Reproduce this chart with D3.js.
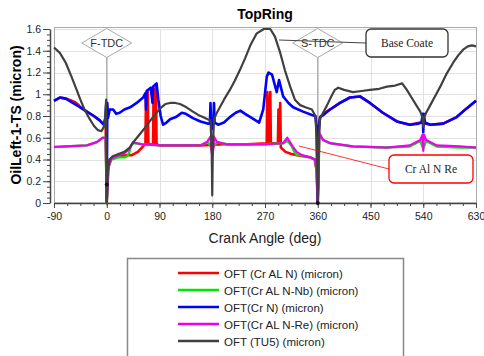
<!DOCTYPE html>
<html>
<head>
<meta charset="utf-8">
<script src="https://cdn.jsdelivr.net/npm/d3@7/dist/d3.min.js"></script>
<style>
  body { margin: 0; background: #fff; }
  svg { display: block; font-family: Arial, "Liberation Sans", sans-serif; }
</style>
</head>
<body>
<svg id="chart" width="484" height="356"></svg>
<script>
// tick values
const xTicks = [-90, 0, 90, 180, 270, 360, 450, 540, 630];
const yTicks = [0, 0.2, 0.4, 0.6, 0.8, 1, 1.2, 1.4, 1.6];

// series, [crank angle, film thickness]
const crAlN = [
    [-90, 0.94], [-80, 0.97], [-70, 0.96], [-62, 0.945], [-55, 0.93], [-48, 0.9], [-45, 0.88],
    [-34, 0.84], [-22, 0.8], [-12, 0.76], [-5, 0.72], [-2, 0.78], [0, 0],
    [2, 0.3], [5, 0.4], [20, 0.43], [35, 0.44], [43, 0.44], [53, 0.47], [60, 0.51], [65, 0.54],
    [66, 0.54], [67, 1.0], [68, 0.54], [70, 1.02], [71, 0.54], [79, 0.54], [80, 1.05], [81, 0.54],
    [84, 1.08], [85, 0.54], [90, 0.53], [120, 0.53], [160, 0.53], [200, 0.54], [240, 0.54],
    [273, 0.55], [274, 1.02], [276, 0.55], [279, 1.02], [280, 0.55], [292, 0.55], [293, 0.86],
    [294, 0.55], [296, 0.92], [297, 0.51], [305, 0.47], [315, 0.45], [325, 0.44], [335, 0.43],
    [347, 0.42], [355, 0.4], [358, 0.3], [360, 0],
    [362, 0.7], [364, 0.79], [372, 0.83], [381, 0.86], [398, 0.92], [415, 0.97], [432, 0.98],
    [449, 0.92], [471, 0.83], [495, 0.75], [517, 0.72], [535, 0.74], [552, 0.72], [574, 0.73],
    [597, 0.79], [614, 0.87], [630, 0.94]
];
const crAlNNb = [
    [-90, 0.515], [-70, 0.52], [-34, 0.53], [-17, 0.56], [-7, 0.6], [-2, 0.6], [0, 0],
    [3, 0.33], [8, 0.4], [20, 0.42], [30, 0.42], [35, 0.43], [38, 0.46], [41, 0.52], [44, 0.55],
    [48, 0.55], [60, 0.54], [90, 0.53], [160, 0.53], [172, 0.56], [180, 0.5], [188, 0.56],
    [205, 0.54], [270, 0.54], [301, 0.55], [308, 0.57], [312, 0.55], [316, 0.52], [320, 0.47],
    [324, 0.44], [330, 0.44], [347, 0.42], [355, 0.4], [358, 0.3], [360, 0],
    [363, 0.63], [369, 0.58], [381, 0.55], [420, 0.52], [478, 0.51], [517, 0.52], [535, 0.57],
    [540, 0.5], [545, 0.57], [563, 0.52], [603, 0.51], [630, 0.51]
];
const crN = [
    [-90, 0.94], [-80, 0.97], [-70, 0.96], [-58, 0.92], [-45, 0.88], [-34, 0.84], [-22, 0.8],
    [-12, 0.76], [-5, 0.72], [-2, 0.78], [-1, 0.9], [0, 0.02], [1, 0.92], [2, 0.78], [5, 0.86],
    [11, 0.86], [16, 0.82], [22, 0.83], [30, 0.86], [40, 0.88], [51, 0.92], [62, 0.97], [66, 1.01],
    [67, 0.86], [68, 1.03], [75, 1.06], [78, 0.92], [79, 1.07], [85, 1.1], [88, 0.95], [92, 0.8],
    [96, 0.72], [102, 0.74], [108, 0.77], [118, 0.79], [128, 0.83], [135, 0.82], [147, 0.78],
    [160, 0.75], [172, 0.73], [176, 0.73], [177, 0.92], [178, 0.74], [180, 0.68], [182, 0.74],
    [183, 0.92], [184, 0.74], [190, 0.72], [200, 0.74], [210, 0.79], [220, 0.83], [228, 0.85],
    [236, 0.82], [248, 0.78], [260, 0.74], [267, 0.86], [273, 1.16], [276, 1.2], [282, 1.18],
    [290, 1.02], [294, 1.13], [301, 0.98], [310, 0.92], [318, 0.88], [335, 0.84], [350, 0.81],
    [356, 0.8], [358, 0.7], [360, 0], [362, 0.7], [364, 0.79], [372, 0.82], [381, 0.86],
    [398, 0.92], [415, 0.97], [432, 0.98], [449, 0.92], [471, 0.83], [495, 0.75], [517, 0.72],
    [532, 0.73], [537, 0.74], [539, 0.82], [540, 0.65], [541, 0.82], [543, 0.74], [552, 0.72],
    [574, 0.73], [597, 0.79], [614, 0.87], [630, 0.94]
];
const crAlNRe = [
    [-90, 0.515], [-70, 0.52], [-34, 0.53], [-17, 0.56], [-7, 0.6], [-2, 0.6], [0, 0],
    [3, 0.33], [8, 0.41], [20, 0.44], [30, 0.46], [38, 0.49], [42, 0.53], [45, 0.56], [50, 0.55],
    [60, 0.54], [90, 0.53], [120, 0.53], [160, 0.53], [171, 0.56], [177, 0.61], [178, 0.5],
    [180, 0.44], [182, 0.5], [183, 0.61], [188, 0.56], [205, 0.54], [247, 0.54], [273, 0.54],
    [301, 0.55], [308, 0.6], [316, 0.53], [324, 0.47], [333, 0.44], [347, 0.42], [355, 0.4],
    [358, 0.3], [360, 0], [363, 0.64], [369, 0.58], [381, 0.55], [420, 0.52], [478, 0.51],
    [517, 0.53], [535, 0.58], [539, 0.63], [540, 0.48], [541, 0.63], [545, 0.58], [563, 0.53],
    [603, 0.52], [630, 0.51]
];
const tu5 = [
    [-90, 1.43], [-80, 1.38], [-70, 1.29], [-60, 1.16], [-52, 1.05], [-45, 0.95], [-38, 0.86],
    [-30, 0.78], [-22, 0.71], [-15, 0.67], [-9, 0.66], [-5, 0.7], [-3, 0.78], [-1, 0.95], [0, 0],
    [2, 0.3], [5, 0.4], [10, 0.43], [20, 0.45], [30, 0.47], [39, 0.51], [47, 0.57], [56, 0.63],
    [65, 0.69], [73, 0.75], [82, 0.81], [91, 0.87], [100, 0.91], [108, 0.92], [117, 0.92],
    [125, 0.91], [136, 0.88], [147, 0.84], [156, 0.81], [164, 0.79], [172, 0.77], [177, 0.76],
    [179, 0.5], [180, 0.07], [181, 0.5], [183, 0.77], [187, 0.82], [193, 0.88], [200, 0.95],
    [210, 1.04], [218, 1.12], [227, 1.22], [236, 1.33], [245, 1.45], [256, 1.56], [268, 1.6],
    [279, 1.6], [287, 1.53], [296, 1.38], [304, 1.22], [313, 1.07], [321, 0.95], [330, 0.9],
    [339, 0.88], [350, 0.86], [356, 0.8], [358, 0.6], [360, 0], [362, 0.6], [364, 0.78],
    [370, 0.84], [376, 0.9], [383, 0.98], [389, 1.04], [395, 1.06], [405, 1.04], [420, 1.02],
    [435, 1.03], [449, 1.04], [465, 1.05], [478, 1.07], [492, 1.08], [504, 1.1], [512, 1.04],
    [520, 0.97], [528, 0.9], [535, 0.84], [539, 0.78], [540, 0.7], [541, 0.78], [545, 0.83],
    [552, 0.9], [560, 0.98], [569, 1.07], [580, 1.19], [591, 1.29], [600, 1.36], [608, 1.41],
    [616, 1.44], [623, 1.45], [630, 1.44]
];

const legendNames = [
    "OFT (Cr AL N) (micron)",
    "OFT(Cr AL N-Nb) (micron)",
    "OFT(Cr N) (micron)",
    "OFT(Cr AL N-Re) (micron)",
    "OFT (TU5) (micron)"
];
const seriesData = [crAlN, crAlNNb, crN, crAlNRe, tu5];
const colors = ["#ff0000", "#00e600", "#0000ff", "#ee00ee", "#404040"];
const widths = [2.6, 2.4, 2.6, 2.2, 2.2];

const svg = d3.select("#chart");

const x = d3.scaleLinear().domain([-90, 630]).range([54, 476]);
const y = d3.scaleLinear().domain([0, 1.6]).range([203, 29]);

// grid
const grid = svg.append("g").attr("stroke", "#e2e2e2").attr("stroke-width", 1);
grid.selectAll("line.h").data(yTicks.slice(1)).join("line")
    .attr("class", "h")
    .attr("x1", x(-90)).attr("x2", x(630))
    .attr("y1", d => Math.round(y(d)) + 0.5).attr("y2", d => Math.round(y(d)) + 0.5);
grid.selectAll("line.v").data(xTicks.slice(1)).join("line")
    .attr("class", "v")
    .attr("y1", y(1.6)).attr("y2", y(0))
    .attr("x1", d => Math.round(x(d)) + 0.5).attr("x2", d => Math.round(x(d)) + 0.5);

svg.append("rect")
    .attr("x", x(-90) + 0.5).attr("y", y(1.6) - 1.5)
    .attr("width", x(630) - x(-90)).attr("height", y(0) - y(1.6) + 1.5)
    .attr("fill", "none").attr("stroke", "#aaa");

// TDC marker lines
svg.selectAll("line.tdc").data([0, 360]).join("line")
    .attr("class", "tdc")
    .attr("x1", d => x(d)).attr("x2", d => x(d))
    .attr("y1", 57).attr("y2", y(0))
    .attr("stroke", "#999").attr("stroke-width", 1);

// axes
const fmt = d => String(+d.toFixed(1));
svg.append("g").attr("transform", "translate(50,0)")
    .call(d3.axisLeft(y).tickValues(yTicks).tickFormat(fmt).tickSize(7).tickSizeOuter(0).tickPadding(2));
svg.append("g").attr("transform", "translate(50,0)")
    .call(d3.axisLeft(y).tickValues(d3.range(0, 1.6, 0.05)).tickFormat("").tickSize(3).tickSizeOuter(0))
    .select(".domain").remove();
svg.append("g").attr("transform", `translate(0,${y(0)})`)
    .call(d3.axisBottom(x).tickValues(xTicks).tickFormat(d => String(d)).tickSize(5).tickSizeOuter(0).tickPadding(5));
svg.append("g").attr("transform", `translate(0,${y(0)})`)
    .call(d3.axisBottom(x).tickValues(d3.range(-90, 631, 22.5)).tickFormat("").tickSize(3).tickSizeOuter(0))
    .select(".domain").remove();
svg.selectAll(".tick line").attr("stroke", "#444");
svg.selectAll(".domain").attr("stroke", "#444").attr("stroke-width", 1.5);
svg.selectAll(".tick text").attr("font-size", 10.5).attr("fill", "#222")
    .attr("font-family", "Arial, 'Liberation Sans', sans-serif");

// titles
svg.append("text").attr("x", 265).attr("y", 19).attr("text-anchor", "middle")
    .attr("font-size", 14).attr("font-weight", "bold").text("TopRing");
svg.append("text").attr("x", 265).attr("y", 243).attr("text-anchor", "middle")
    .attr("font-size", 14).attr("fill", "#222").text("Crank Angle (deg)");
svg.append("text").attr("transform", "translate(21,115) rotate(-90)").attr("text-anchor", "middle")
    .attr("font-size", 14).attr("font-weight", "bold").text("OilLeft-1-TS (micron)");

// curves
const line = d3.line().x(d => x(d[0])).y(d => y(d[1]));
svg.append("g").selectAll("path").data(seriesData).join("path")
    .attr("d", line)
    .attr("fill", "none")
    .attr("stroke", (d, i) => colors[i])
    .attr("stroke-width", (d, i) => widths[i])
    .attr("stroke-linejoin", "round");

svg.selectAll("circle.pt").data([[0, 0.17], [360, 0]]).join("circle")
    .attr("class", "pt")
    .attr("cx", d => x(d[0])).attr("cy", d => y(d[1])).attr("r", 2).attr("fill", "#111");

// TDC diamonds
const tdc = svg.selectAll("g.tdc").data([[0, "F-TDC"], [360, "S-TDC"]]).join("g")
    .attr("transform", d => `translate(${x(d[0])},43)`);
tdc.append("path").attr("d", "M-25,0L0,-14.5L25,0L0,14.5Z")
    .attr("fill", "#fff").attr("stroke", "#aaa").attr("stroke-width", 1);

// arrow markers
const defs = svg.append("defs");
[["arrBlack", "#222"], ["arrRed", "#f00"]].forEach(([id, c]) => {
    defs.append("marker").attr("id", id).attr("viewBox", "0 0 10 10")
        .attr("refX", 1).attr("refY", 5).attr("markerWidth", 8).attr("markerHeight", 8)
        .attr("orient", "auto-start-reverse").attr("markerUnits", "userSpaceOnUse")
        .append("path").attr("d", "M0,5L10,0L10,10Z").attr("fill", c);
});

// Base Coate callout
svg.append("line").attr("x1", 366).attr("y1", 43).attr("x2", 279).attr("y2", 40)
    .attr("stroke", "#444").attr("stroke-width", 1).attr("marker-start", "url(#arrBlack)");
tdc.append("text").attr("y", 4).attr("text-anchor", "middle").attr("font-size", 11)
    .attr("fill", "#333").text(d => d[1]);
svg.append("rect").attr("x", 366).attr("y", 29).attr("width", 82).attr("height", 28).attr("rx", 5)
    .attr("fill", "#fff").attr("stroke", "#333").attr("stroke-width", 1.3);
svg.append("text").attr("x", 407).attr("y", 47).attr("text-anchor", "middle")
    .attr("font-family", "'Liberation Serif', 'DejaVu Serif', serif").attr("font-size", 11.5)
    .attr("fill", "#222").text("Base Coate");

// Cr Al N Re callout
svg.append("line").attr("x1", 389).attr("y1", 169).attr("x2", 299).attr("y2", 146)
    .attr("stroke", "#f00").attr("stroke-width", 0.8).attr("marker-start", "url(#arrRed)");
svg.append("rect").attr("x", 389).attr("y", 155).attr("width", 84).attr("height", 28).attr("rx", 5)
    .attr("fill", "#fff").attr("stroke", "#f00").attr("stroke-width", 1.3);
svg.append("text").attr("x", 431).attr("y", 173).attr("text-anchor", "middle")
    .attr("font-family", "'Liberation Serif', 'DejaVu Serif', serif").attr("font-size", 11.5)
    .attr("fill", "#222").text("Cr Al N Re");

// legend
const legend = svg.append("g");
legend.append("rect").attr("x", 127.5).attr("y", 258.5).attr("width", 276).attr("height", 110)
    .attr("fill", "#fff").attr("stroke", "#888").attr("stroke-width", 1.5);
const rows = legend.selectAll("g.row").data(legendNames).join("g")
    .attr("class", "row")
    .attr("transform", (d, i) => `translate(0,${273 + i * 17})`);
rows.append("line").attr("x1", 178).attr("x2", 219)
    .attr("stroke", (d, i) => colors[i]).attr("stroke-width", 2.5);
rows.append("text").attr("x", 224).attr("y", 4.5).attr("font-size", 11.5).attr("fill", "#222")
    .text(d => d);
</script>
</body>
</html>
